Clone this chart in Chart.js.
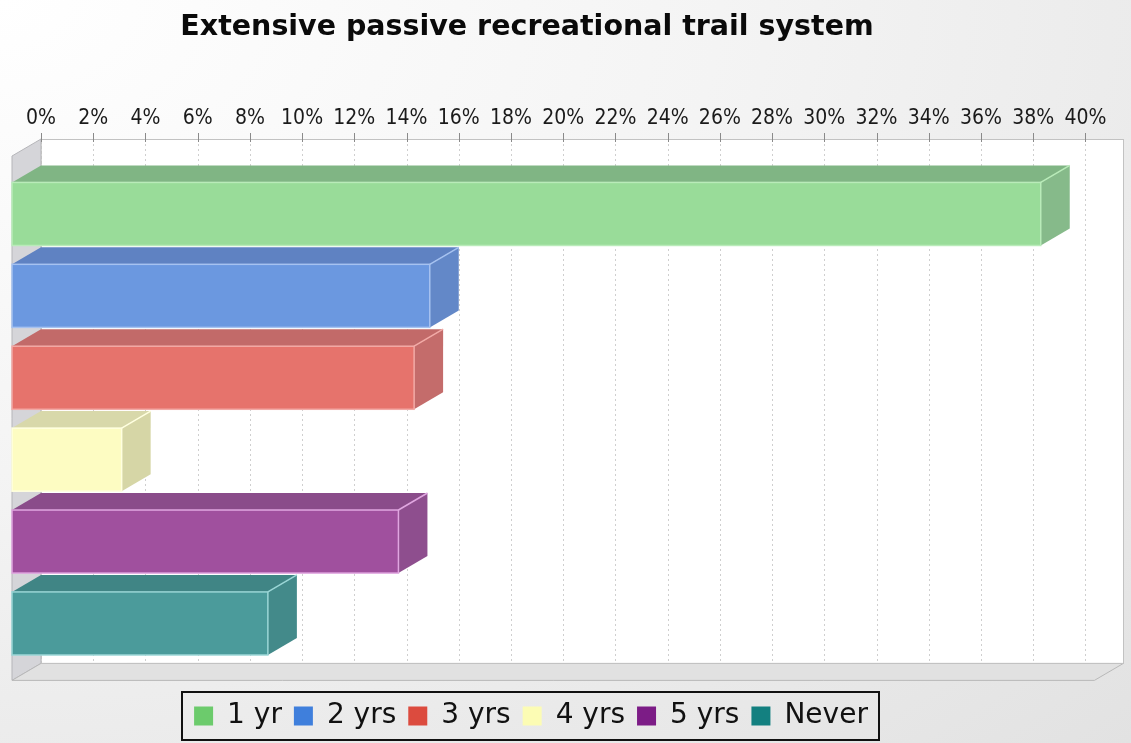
<!DOCTYPE html>
<html>
<head>
<meta charset="utf-8">
<title>Extensive passive recreational trail system</title>
<script src="https://cdn.jsdelivr.net/npm/chart.js@4.4.1/dist/chart.umd.min.js"></script>
<style>
  html, body { margin: 0; padding: 0; }
  body {
    width: 1131px; height: 743px; overflow: hidden;
    background: radial-gradient(ellipse at 0 0, #ffffff 0%, #f4f4f4 45%, #e2e2e2 100%);
  }
  canvas { display: block; }
</style>
</head>
<body>
<canvas id="trail_chart" width="1131" height="743"></canvas>
<script>
// data
const categories = ['1 yr', '2 yrs', '3 yrs', '4 yrs', '5 yrs', 'Never'];
const shares = [39.4, 16.0, 15.4, 4.2, 14.8, 9.8];
const tickValues = [0, 2, 4, 6, 8, 10, 12, 14, 16, 18, 20, 22, 24, 26, 28, 30, 32, 34, 36, 38, 40];

// colours
const legendColors = ['#6ccb6c', '#3f7fdc', '#dc4b3e', '#fcfcb4', '#7c1c86', '#138080'];
const frontColors = ['#99dc99', '#6b98e0', '#e6736c', '#fdfcc2', '#a0509e', '#4b9b9b'];
const topColors = ['#80b584', '#5f82c2', '#c26a69', '#d8d8aa', '#8a4c8a', '#408585'];
const sideColors = ['#86ba8a', '#6388c8', '#c46c6b', '#d6d6a6', '#8e4e8e', '#438a8a'];
const edgeColors = ['#b9ebb9', '#a6c2f0', '#f2aaa6', '#ffffe0', '#e0a6e0', '#9ad6d6'];

const DX = 29;          // 3d depth, horizontal
const DY = 17;          // 3d depth, vertical
const TITLE_CX = 527;
const LEGEND_CX = 537;
const LEGEND_TEXT_Y = 716;
const LEGEND_FONT = 28;
const LEGEND_BOX = 19;

const tickFont = '"DejaVu Sans Condensed", "DejaVu Sans", sans-serif';

function poly(ctx, pts, fill, stroke) {
    ctx.beginPath();
    ctx.moveTo(pts[0][0], pts[0][1]);
    for (let i = 1; i < pts.length; i++) ctx.lineTo(pts[i][0], pts[i][1]);
    ctx.closePath();
    ctx.fillStyle = fill;
    ctx.fill();
    if (stroke) {
        ctx.strokeStyle = stroke;
        ctx.stroke();
    }
}

const box3d = {
    id: 'box3d',
    afterLayout(chart) {
        // title and legend sit left of the canvas centre in the original
        const t = chart.titleBlock;
        const tw = t.right - t.left;
        t.left = TITLE_CX - tw / 2;
        t.right = TITLE_CX + tw / 2;

        const lg = chart.legend;
        const p = lg.options.labels.padding;
        const lw = lg.lineWidths[0];
        const h = lg.height;
        const itemHeight = Math.max(LEGEND_FONT, LEGEND_BOX);
        lg.left = LEGEND_CX - lw / 2 - p - 2;
        lg.right = LEGEND_CX + lw / 2 + 2;
        lg.top = LEGEND_TEXT_Y - itemHeight / 2 - p;
        lg.bottom = lg.top + h;
    },
    beforeDatasetsDraw(chart) {
        const {ctx, chartArea: a, scales: {x}} = chart;
        const top = a.top - DY;
        const bottom = a.bottom + 16;
        const left = a.left;
        const right = a.right + 38;

        ctx.save();
        ctx.lineWidth = 1;

        // back wall
        ctx.fillStyle = '#ffffff';
        ctx.fillRect(left, top, right - left, bottom - top);

        // left wall and floor
        poly(ctx, [[left, top], [left - DX, top + DY], [left - DX, bottom + DY], [left, bottom]], '#d5d5d9', '#b5b5b9');
        poly(ctx, [[left, bottom], [left - DX, bottom + DY], [right - DX, bottom + DY], [right, bottom]], '#e1e1e1', '#b8b8b8');

        ctx.strokeStyle = '#c2c2c2';
        ctx.strokeRect(Math.round(left) + 0.5, Math.round(top) + 0.5, Math.round(right - left), Math.round(bottom - top));

        // dashed grid on the back wall
        ctx.setLineDash([2, 3]);
        ctx.strokeStyle = '#cfcfcf';
        x.ticks.forEach(t => {
            const px = Math.round(x.getPixelForValue(t.value)) + 0.5;
            ctx.beginPath();
            ctx.moveTo(px, top);
            ctx.lineTo(px, bottom);
            ctx.stroke();
        });
        ctx.setLineDash([]);

        // tick marks
        ctx.strokeStyle = '#8a8a8a';
        x.ticks.forEach(t => {
            const px = Math.round(x.getPixelForValue(t.value)) + 0.5;
            ctx.beginPath();
            ctx.moveTo(px, top - 6);
            ctx.lineTo(px, top + 3);
            ctx.stroke();
        });

        // bars as boxes
        shares.forEach((v, i) => {
            const el = chart.getDatasetMeta(i).data[i];
            if (!el) return;
            const {x: xb1, y, base: xb0, height} = el.getProps(['x', 'y', 'base', 'height'], true);
            const y0 = y - height / 2;
            const y1 = y + height / 2;
            const xf0 = xb0 - DX;
            const xf1 = xb1 - DX;

            poly(ctx, [[xf0, y0 + DY], [xb0, y0], [xb1, y0], [xf1, y0 + DY]], topColors[i]);
            poly(ctx, [[xf1, y0 + DY], [xb1, y0], [xb1, y1], [xf1, y1 + DY]], sideColors[i]);
            ctx.fillStyle = frontColors[i];
            ctx.fillRect(xf0, y0 + DY, xf1 - xf0, height);

            ctx.strokeStyle = edgeColors[i];
            ctx.lineWidth = 1.5;
            ctx.strokeRect(xf0, y0 + DY, xf1 - xf0, height);
            ctx.beginPath();
            ctx.moveTo(xf1, y0 + DY);
            ctx.lineTo(xb1, y0);
            ctx.stroke();
            ctx.lineWidth = 1;
        });

        ctx.restore();
        return false;
    },
    afterDraw(chart) {
        const lg = chart.legend;
        const {ctx} = chart;
        const p = lg.options.labels.padding;
        const lw = lg.lineWidths[0];
        const x0 = LEGEND_CX - lw / 2;
        const x1 = x0 + lw - p;
        ctx.save();
        ctx.strokeStyle = '#111111';
        ctx.lineWidth = 2;
        ctx.strokeRect(Math.round(x0 - 12), Math.round(LEGEND_TEXT_Y - 24), Math.round(x1 - x0 + 23), 48);
        ctx.restore();
    }
};

const ctx = document.getElementById('trail_chart').getContext('2d');
const trailChart = new Chart(ctx, {
    type: 'bar',
    data: {
        labels: categories,
        datasets: categories.map((name, i) => ({
            label: name,
            data: shares.map((v, j) => (j === i ? v : null)),
            backgroundColor: legendColors[i],
            borderWidth: 0,
            grouped: false,
            categoryPercentage: 1,
            barPercentage: 0.77
        }))
    },
    options: {
        indexAxis: 'y',
        responsive: false,
        animation: false,
        layout: {
            padding: {left: 41, right: 44, top: 0, bottom: 45.6}
        },
        scales: {
            x: {
                type: 'linear',
                position: 'top',
                min: 0,
                max: 40,
                afterBuildTicks: scale => {
                    scale.ticks = tickValues.map(v => ({value: v}));
                },
                grid: {display: false, drawTicks: false},
                border: {display: false},
                ticks: {
                    autoSkip: false,
                    maxRotation: 0,
                    padding: 24.6,
                    color: '#1a1a1a',
                    font: {family: tickFont, size: 21},
                    callback: v => v + '%'
                }
            },
            y: {
                display: false
            }
        },
        plugins: {
            title: {
                display: true,
                text: 'Extensive passive recreational trail system',
                color: '#0a0a0a',
                font: {family: '"DejaVu Sans", sans-serif', size: 28.5, weight: 'bold'},
                padding: {top: 10, bottom: 37.4}
            },
            legend: {
                position: 'bottom',
                labels: {
                    boxWidth: LEGEND_BOX,
                    boxHeight: LEGEND_BOX,
                    padding: 12,
                    color: '#111111',
                    font: {family: '"DejaVu Sans", sans-serif', size: LEGEND_FONT}
                }
            },
            tooltip: {enabled: false}
        }
    },
    plugins: [box3d]
});
</script>
</body>
</html>
